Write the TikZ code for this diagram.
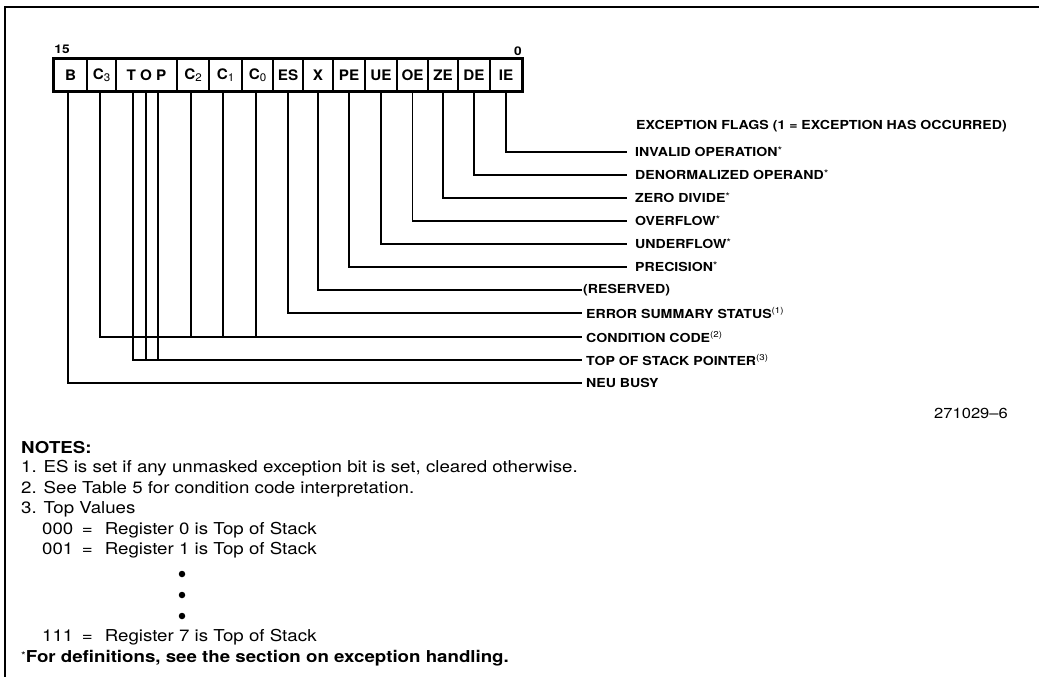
\documentclass[tikz,border=0pt]{standalone}
\usepackage{fontspec}
\setmainfont[FakeStretch=1.14]{TeX Gyre Heros}
\newfontfamily\boxfont[FakeStretch=1.05]{TeX Gyre Heros}
\newcommand\regsub[1]{\raisebox{-0.3ex}{\fontsize{11}{11}\selectfont\mdseries #1}}
\newcommand\fstar{\raisebox{0.35ex}{\fontsize{10.5}{10}\selectfont\mdseries *}}
\newcommand\fnref[1]{\raisebox{0.75ex}{\fontsize{8.5}{9}\selectfont\mdseries (#1)}}
\begin{document}
\begin{tikzpicture}[x=1pt,y=-1pt,
  reg/.style={draw, line width=1.1pt, minimum height=32pt, inner sep=0pt,
    font=\boxfont\fontsize{14.5}{15}\selectfont\bfseries},
  conn/.style={line width=1.1pt},
  flag/.style={anchor=west, inner sep=0pt, font=\fontsize{12.4}{13}\selectfont\bfseries},
  note/.style={anchor=west, inner sep=0pt, font=\fontsize{16.4}{18}\selectfont},
  notebold/.style={note, font=\fontsize{16.4}{18}\selectfont\bfseries},
  bitno/.style={inner sep=0pt, font=\fontsize{12}{12}\selectfont\bfseries},
  dotmark/.style={circle, fill=black, inner sep=0pt, minimum size=6.5pt},
]
\useasboundingbox (0,0) rectangle (1039,677);
% frame
\draw[line width=1.5pt] (1039,7) -- (5,7) -- (5,677);

% register bits
\node[reg, minimum width=33pt] (rB)   at (70.5,75)  {B};
\node[reg, minimum width=29pt] (rC3)  at (101.5,75) {C\regsub{3}};
\node[reg, minimum width=61pt] (rTOP) at (146.5,75) {T O P};
\node[reg, minimum width=32pt] (rC2)  at (193,75)   {C\regsub{2}};
\node[reg, minimum width=33pt] (rC1)  at (225.5,75) {C\regsub{1}};
\node[reg, minimum width=31pt] (rC0)  at (257.5,75) {C\regsub{0}};
\node[reg, minimum width=30pt] (rES)  at (288,75)   {ES};
\node[reg, minimum width=30pt] (rX)   at (318,75)   {X};
\node[reg, minimum width=32pt] (rPE)  at (349,75)   {PE};
\node[reg, minimum width=32pt] (rUE)  at (381,75)   {UE};
\node[reg, minimum width=31pt] (rOE)  at (412.5,75) {OE};
\node[reg, minimum width=30pt] (rZE)  at (443,75)   {ZE};
\node[reg, minimum width=32pt] (rDE)  at (474,75)   {DE};
\node[reg, minimum width=32pt] (rIE)  at (506,75)   {IE};
\draw[line width=2pt] (rB.north west) rectangle (rIE.south east);

\node[bitno] (b15) at (62,49) {15};
\node[bitno] (b0)  at (518,51) {0};

% labels
\node[flag] (lEF) at (636,126) {EXCEPTION FLAGS (1 = EXCEPTION HAS OCCURRED)};
\node[flag] (lIE) at (635,152) {INVALID OPERATION\fstar};
\node[flag] (lDE) at (635,175) {DENORMALIZED OPERAND\fstar};
\node[flag] (lZE) at (635,198) {ZERO DIVIDE\fstar};
\node[flag] (lOE) at (635,221) {OVERFLOW\fstar};
\node[flag] (lUE) at (635,244) {UNDERFLOW\fstar};
\node[flag] (lPE) at (635,267) {PRECISION\fstar};
\node[flag] (lX)  at (583,290) {(RESERVED)};
\node[flag] (lES) at (586,313) {ERROR SUMMARY STATUS\fnref{1}};
\node[flag] (lCC) at (586,337) {CONDITION CODE\fnref{2}};
\node[flag] (lTS) at (586,360) {TOP OF STACK POINTER\fnref{3}};
\node[flag] (lNB) at (586,383) {NEU BUSY};

% connectors
\draw[conn] (rIE.south) |- ([xshift=-8pt]lIE.west);
\draw[conn] (rDE.south) |- ([xshift=-8pt]lDE.west);
\draw[conn] (rZE.south) |- ([xshift=-8pt]lZE.west);
\draw[conn] (rOE.south) |- ([xshift=-8pt]lOE.west);
\draw[conn] (rUE.south) |- ([xshift=-8pt]lUE.west);
\draw[conn] (rPE.south) |- ([xshift=-8pt]lPE.west);
\draw[conn] (rX.south)  |- ([xshift=-1pt]lX.west);
\draw[conn] (rES.south) |- ([xshift=-4pt]lES.west);
\draw[conn] ([xshift=-1.5pt]rC3.south) |- ([xshift=-4pt]lCC.west);
\draw[conn] ([xshift=-2pt]rC2.south) -- ([xshift=-2pt]rC2.south |- lCC.west);
\draw[conn] ([xshift=-2.5pt]rC1.south) -- ([xshift=-2.5pt]rC1.south |- lCC.west);
\draw[conn] ([xshift=-1.5pt]rC0.south) -- ([xshift=-1.5pt]rC0.south |- lCC.west);
\draw[conn] ([xshift=-13.5pt]rTOP.south) |- ([xshift=-4pt]lTS.west);
\draw[conn] ([xshift=-0.5pt]rTOP.south) -- ([xshift=-0.5pt]rTOP.south |- lTS.west);
\draw[conn] ([xshift=11.5pt]rTOP.south) -- ([xshift=11.5pt]rTOP.south |- lTS.west);
\draw[conn] ([xshift=-2.5pt]rB.south) |- ([xshift=-4pt]lNB.west);

% figure number
\node[inner sep=0pt, font=\fontsize{14.5}{15}\selectfont] (fig) at (971,413) {271029--6};

% notes
\node[notebold] (nh) at (21,448) {NOTES:};
\node[note] (n1) at (21,468.5) {1. ES is set if any unmasked exception bit is set, cleared otherwise.};
\node[note] (n2) at (21,489) {2. See Table 5 for condition code interpretation.};
\node[note] (n3) at (21,509.5) {3. Top Values};
\node[note] (n4) at (42,530) {000\hspace{8.5pt}=\hspace{12pt}Register 0 is Top of Stack};
\node[note] (n5) at (42,550.5) {001\hspace{8.5pt}=\hspace{12pt}Register 1 is Top of Stack};
\node[dotmark] (d1) at (182,574) {};
\node[dotmark] (d2) at (182,595) {};
\node[dotmark] (d3) at (182,616) {};
\node[note] (n6) at (42,637) {111\hspace{8.5pt}=\hspace{12pt}Register 7 is Top of Stack};
\node[notebold] (n7) at (21,658) {\fstar For definitions, see the section on exception handling.};
\end{tikzpicture}
\end{document}
